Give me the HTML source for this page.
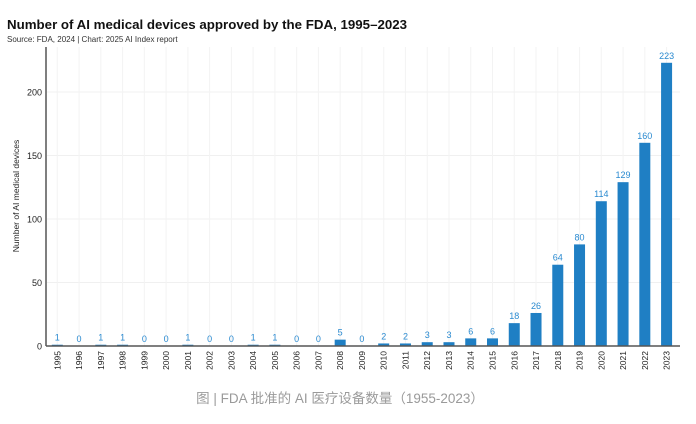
<!DOCTYPE html>
<html><head><meta charset="utf-8"><style>
body{margin:0;background:#fff;width:696px;height:419px;overflow:hidden;font-family:"Liberation Sans","Noto Sans CJK SC",sans-serif}
</style></head><body>
<svg width="696" height="419" xmlns="http://www.w3.org/2000/svg">
<text x="7" y="29" font-size="13.3" font-weight="bold" fill="#111">Number of AI medical devices approved by the FDA, 1995–2023</text>
<text x="7" y="42" font-size="8" fill="#333">Source: FDA, 2024 | Chart: 2025 AI Index report</text>
<g id="grid"></g>
<g id="bars"></g>
<line x1="46" y1="47" x2="46" y2="346" stroke="#555" stroke-width="1.5"/>
<line x1="46" y1="346" x2="680" y2="346" stroke="#555" stroke-width="1.5"/>
<text transform="translate(19,196) rotate(-90)" text-anchor="middle" font-size="8.5" fill="#222">Number of AI medical devices</text>
<text x="340" y="403" text-anchor="middle" font-size="13.5" fill="#9a9a9a">图 | FDA 批准的 AI 医疗设备数量（1955-2023）</text>
</svg>
<script>
const years=["1995","1996","1997","1998","1999","2000","2001","2002","2003","2004","2005","2006","2007","2008","2009","2010","2011","2012","2013","2014","2015","2016","2017","2018","2019","2020","2021","2022","2023"];
const counts=[1,0,1,1,0,0,1,0,0,1,1,0,0,5,0,2,2,3,3,6,6,18,26,64,80,114,129,160,223];
const yTicks=[0,50,100,150,200];
const NS="http://www.w3.org/2000/svg";
const x0=57.3,step=21.76,base=346,k=1.27,bw=11;
const xs=i=>x0+i*step, ys=v=>base-v*k;
const svg=document.querySelector('svg'),grid=document.getElementById('grid'),bars=document.getElementById('bars');
function mk(t,a,p){const e=document.createElementNS(NS,t);for(const n in a)e.setAttribute(n,a[n]);p.appendChild(e);return e;}
yTicks.forEach(v=>{
 const l=mk('line',{x1:47,x2:680,y1:ys(v),y2:ys(v),stroke:'#f0f0f0','stroke-width':1},grid);
 
 
 const t=mk('text',{x:42,y:ys(v)+3.5,'text-anchor':'end','font-size':9,fill:'#222'},svg);
 t.textContent=v;
 
 
});
years.forEach((y,i)=>{
 const g=mk('line',{x1:xs(i),x2:xs(i),y1:47,y2:346,stroke:'#f3f3f3','stroke-width':1},grid);
 
 
 const v=counts[i];
 const r=mk('rect',{x:xs(i)-bw/2,y:ys(v),width:bw,height:v*k,fill:'#1f7fc4'},bars);
 
 
 const t=mk('text',{x:xs(i),y:ys(v)-4,'text-anchor':'middle','font-size':9,fill:'#2a8ad0'},svg);
 t.textContent=v;
 
 
 const lt=mk('text',{transform:`translate(${xs(i)+3},351) rotate(-90)`,'text-anchor':'end','font-size':8.5,fill:'#222'},svg);
 lt.textContent=y;
 
 
});
</script>
</body></html>
